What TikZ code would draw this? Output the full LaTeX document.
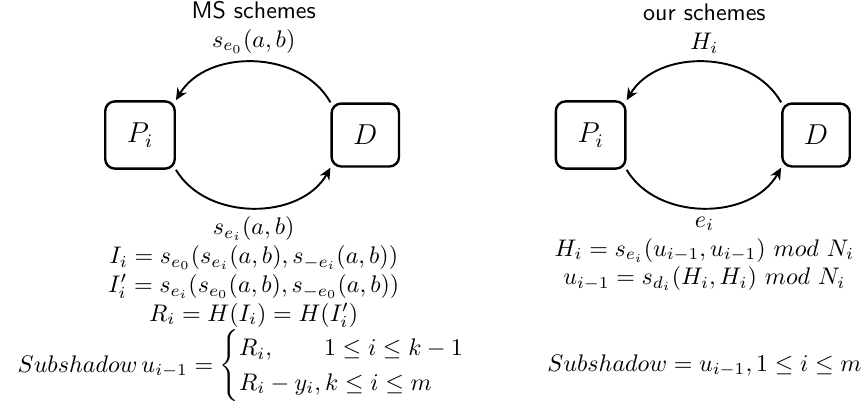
\documentclass[tikz,border=0pt]{standalone}
\usepackage{amsmath,amssymb}
\usetikzlibrary{arrows.meta,positioning}
\tikzset{
  szereplo/.style={draw,line width=1pt,rounded corners=4pt,inner sep=9pt,font=\large},
  iv/.style={-{Stealth[length=5pt,width=4.5pt]},thick},
  felirat/.style={align=center},
}
\begin{document}
\begin{tikzpicture}
  \useasboundingbox (-2.050,-4.013) rectangle (10.632,1.977);
  % MS schemes
  \node[szereplo] (P1) at (0,0) {$P_i$};
  \node[szereplo] (D1) at (3.3,0) {$D$};
  \draw[iv] (D1.north west) to[bend right=60]
    node[felirat,above] {\textsf{MS schemes}\\ $s_{e_0}(a,b)$} (P1.north east);
  \draw[iv] (P1.south east) to[bend right=60]
    node[felirat,below] {$s_{e_i}(a,b)$\\
      $I_i=s_{e_0}(s_{e_i}(a,b),s_{-e_i}(a,b))$\\
      $I'_i=s_{e_i}(s_{e_0}(a,b),s_{-e_0}(a,b))$\\
      $R_i=H(I_i)=H(I'_i)$\\
      $Subshadow\,u_{i-1}=\begin{cases}R_i,\qquad 1\le i\le k-1\\ R_i-y_i,k\le i\le m\end{cases}$}
    (D1.south west);
  % our schemes
  \node[szereplo] (P2) at (6.6,0) {$P_i$};
  \node[szereplo] (D2) at (9.9,0) {$D$};
  \draw[iv] (D2.north west) to[bend right=60]
    node[felirat,above] {\textsf{our schemes}\\ $H_i$} (P2.north east);
  \draw[iv] (P2.south east) to[bend right=60]
    node[felirat,below] {$e_i$\\
      $H_i=s_{e_i}(u_{i-1},u_{i-1})\ mod\ N_i$\\
      $u_{i-1}=s_{d_i}(H_i,H_i)\ mod\ N_i$\\[24pt]
      $Subshadow=u_{i-1},1\le i\le m$}
    (D2.south west);
\end{tikzpicture}
\end{document}
